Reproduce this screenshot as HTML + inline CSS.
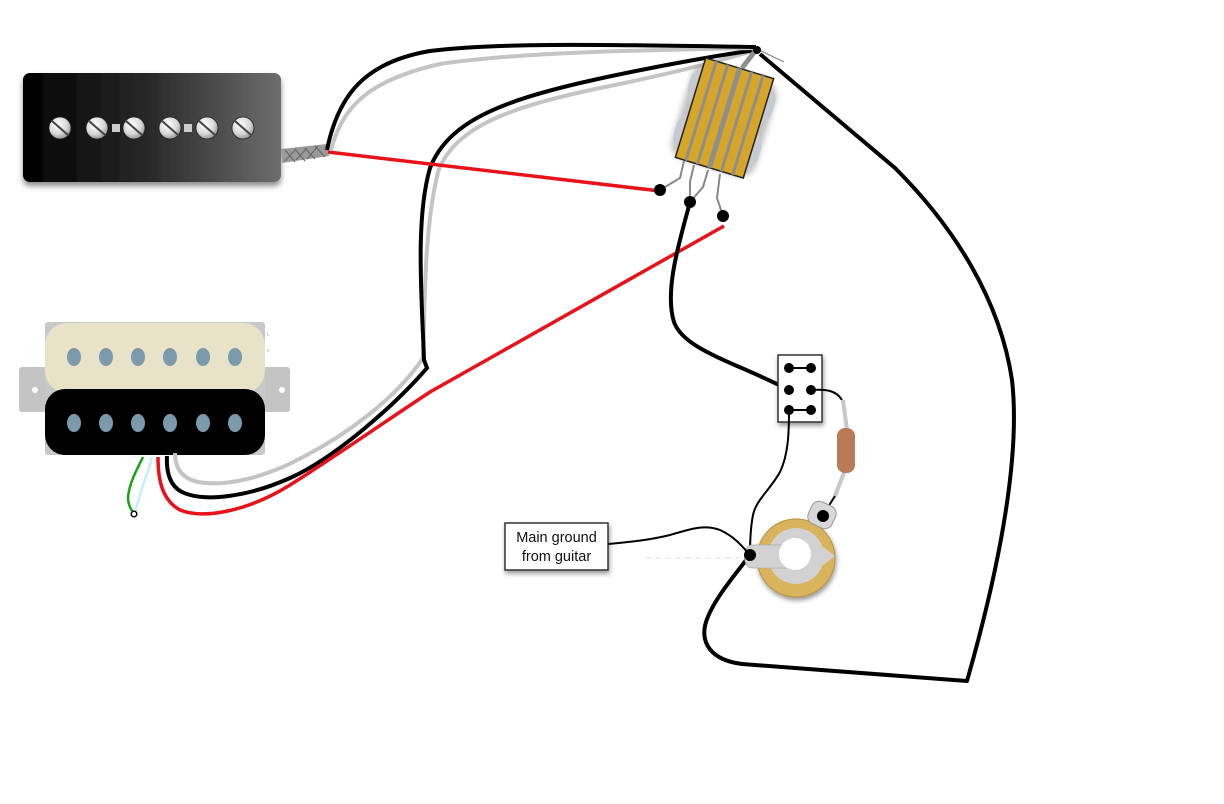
<!DOCTYPE html>
<html><head><meta charset="utf-8"><style>
html,body{margin:0;padding:0;background:#fff;}
svg{display:block;}
</style></head><body>
<svg width="1224" height="804" viewBox="0 0 1224 804" xmlns="http://www.w3.org/2000/svg">
<defs>
<linearGradient id="p90" x1="0" y1="0" x2="1" y2="0">
<stop offset="0" stop-color="#000"/><stop offset="0.5" stop-color="#2a2a2a"/><stop offset="1" stop-color="#6e6e6e"/>
</linearGradient>
<radialGradient id="scr" cx="0.4" cy="0.35" r="0.7">
<stop offset="0" stop-color="#fff"/><stop offset="0.6" stop-color="#d8d8d8"/><stop offset="1" stop-color="#8a8a8a"/>
</radialGradient>
<filter id="sh" x="-20%" y="-20%" width="140%" height="150%">
<feDropShadow dx="0" dy="4" stdDeviation="3" flood-color="#000" flood-opacity="0.45"/>
</filter>
<filter id="sh2" x="-20%" y="-20%" width="140%" height="150%">
<feDropShadow dx="1" dy="3" stdDeviation="2.5" flood-color="#000" flood-opacity="0.4"/>
</filter>
<filter id="blur"><feGaussianBlur stdDeviation="3"/></filter>
</defs>

<!-- P90 pickup -->
<rect x="23" y="73" width="258" height="109" rx="7" fill="url(#p90)" filter="url(#sh)"/>
<g stroke="#222" stroke-width="0.8">
<circle cx="60" cy="128" r="11" fill="url(#scr)"/>
<circle cx="97" cy="128" r="11" fill="url(#scr)"/>
<circle cx="134" cy="128" r="11" fill="url(#scr)"/>
<circle cx="170" cy="128" r="11" fill="url(#scr)"/>
<circle cx="207" cy="128" r="11" fill="url(#scr)"/>
<circle cx="243" cy="128" r="11" fill="url(#scr)"/>
</g>
<rect x="112" y="124" width="8" height="8" fill="#ccc"/>
<rect x="184" y="124" width="8" height="8" fill="#ccc"/>
<g stroke="#444" stroke-width="2" stroke-linecap="round">
<line x1="52" y1="121" x2="68" y2="135"/><line x1="89" y1="121" x2="105" y2="135"/>
<line x1="126" y1="121" x2="142" y2="135"/><line x1="162" y1="121" x2="178" y2="135"/>
<line x1="199" y1="121" x2="215" y2="135"/><line x1="235" y1="121" x2="251" y2="135"/>
</g>
<!-- braid -->
<polygon points="281,149 327,144 329,156 282,163" fill="#9a9a9a"/>
<g stroke="#666" stroke-width="1">
<line x1="285" y1="150" x2="295" y2="162"/><line x1="295" y1="149" x2="305" y2="161"/>
<line x1="305" y1="148" x2="315" y2="159"/><line x1="315" y1="146" x2="325" y2="157"/>
<line x1="285" y1="161" x2="296" y2="149"/><line x1="296" y1="160" x2="307" y2="148"/>
<line x1="307" y1="159" x2="318" y2="146"/>
</g>

<!-- humbucker -->
<rect x="19" y="367" width="271" height="45" rx="3" fill="#c4c4c4"/>
<circle cx="35" cy="390" r="3" fill="#fff"/>
<circle cx="282" cy="390" r="3" fill="#fff"/>
<rect x="45" y="322" width="220" height="133" rx="3" fill="#c8c8c8"/>
<rect x="45" y="323" width="220" height="70" rx="22" fill="#e8e2c8"/>
<rect x="45" y="389" width="220" height="66" rx="20" fill="#000"/>
<g fill="#7b9aab">
<ellipse cx="74" cy="357" rx="7" ry="9"/><ellipse cx="106" cy="357" rx="7" ry="9"/>
<ellipse cx="138" cy="357" rx="7" ry="9"/><ellipse cx="170" cy="357" rx="7" ry="9"/>
<ellipse cx="203" cy="357" rx="7" ry="9"/><ellipse cx="235" cy="357" rx="7" ry="9"/>
<ellipse cx="74" cy="423" rx="7" ry="9"/><ellipse cx="106" cy="423" rx="7" ry="9"/>
<ellipse cx="138" cy="423" rx="7" ry="9"/><ellipse cx="170" cy="423" rx="7" ry="9"/>
<ellipse cx="203" cy="423" rx="7" ry="9"/><ellipse cx="235" cy="423" rx="7" ry="9"/>
</g>
<text x="267" y="336" font-family="Liberation Sans, sans-serif" font-size="5" fill="#999">L</text>
<text x="267" y="352" font-family="Liberation Sans, sans-serif" font-size="5" fill="#999">c</text>

<!-- green / cyan -->
<path d="M143,457 C138,468 130,480 128,497 C128,505 131,510 134,513" fill="none" stroke="#1aa31a" stroke-width="2.5"/>
<path d="M152,457 C149,470 143,483 140,495 C138,503 136,508 135,511" fill="none" stroke="#c8f0f4" stroke-width="2.5"/>
<circle cx="134" cy="514" r="2.8" fill="#fff" stroke="#000" stroke-width="1.5"/>

<!-- humbucker wires -->
<path d="M175,453 C175,466 180,478 198,482 C225,487 265,478 305,456 C345,435 395,400 423,358 C425,300 424,230 438,172 C455,125 515,106 600,88 C680,72 730,58 756,50" fill="none" stroke="#c4c4c4" stroke-width="4"/>
<path d="M167,456 C166,472 170,486 182,492 C205,503 250,496 290,478 C335,458 395,405 427,368 L424,360 C422,300 415,220 430,168 C448,122 500,102 580,83 C650,67 720,55 756,50" fill="none" stroke="#000" stroke-width="4"/>
<path d="M158,457 C158,480 162,500 180,510 C205,520 250,510 290,485 C330,460 380,425 430,392 L724,226" fill="none" stroke="#e8131a" stroke-width="3.5"/>

<!-- P90 wires -->
<path d="M331,150 C343,105 370,80 440,64 C520,52 650,50 756,48" fill="none" stroke="#c4c4c4" stroke-width="4"/>
<path d="M327,150 C338,95 365,62 430,51 C500,42 620,45 756,47" fill="none" stroke="#000" stroke-width="4"/>
<line x1="328" y1="152" x2="660" y2="191" stroke="#e8131a" stroke-width="3.5"/>

<!-- right loop -->
<path d="M760,54 L895,168 C955,228 1000,300 1012,380 C1020,450 1003,555 967,681 L742,664 C710,660 700,642 706,622 C713,600 735,575 750,555" fill="none" stroke="#000" stroke-width="4" stroke-linejoin="round"/>

<!-- toggle switch -->
<g transform="translate(724.5,118) rotate(17)">
<g filter="url(#blur)" opacity="0.5"><rect x="-44" y="-48" width="88" height="100" rx="16" fill="#888"/></g>
<rect x="-44" y="-44" width="88" height="40" rx="16" fill="#c7cbd1"/>
<rect x="-44" y="4" width="88" height="40" rx="16" fill="#c7cbd1"/>
<rect x="-35.5" y="-52" width="71" height="104" fill="#d6a62a" stroke="#222" stroke-width="1.5"/>
<g fill="#8e8e8e">
<rect x="-26" y="-52" width="3" height="104"/>
<rect x="-14" y="-52" width="3" height="104"/>
<rect x="-2.5" y="-52" width="5" height="104"/>
<rect x="11" y="-52" width="3" height="104"/>
<rect x="23" y="-52" width="3" height="104"/>
</g>
</g>
<line x1="742" y1="68" x2="756" y2="50" stroke="#8e8e8e" stroke-width="5"/>
<line x1="757" y1="49" x2="784" y2="62" stroke="#888" stroke-width="1.2"/>
<circle cx="757" cy="50" r="4" fill="#000"/>
<!-- lugs -->
<g fill="none" stroke="#888" stroke-width="2">
<path d="M684,161 L680,178 L660,190"/>
<path d="M694,165 L690,182 L690,202"/>
<path d="M708,170 L703,187 L690,202"/>
<path d="M720,174 L717,198 L723,216"/>
</g>
<circle cx="660" cy="190" r="6" fill="#000"/>
<circle cx="690" cy="202" r="6" fill="#000"/>
<circle cx="723" cy="216" r="6" fill="#000"/>

<!-- black from switch to DPDT -->
<path d="M690,202 C680,240 664,290 674,322 C684,350 735,362 789,390" fill="none" stroke="#000" stroke-width="4"/>

<!-- DPDT -->
<rect x="778" y="355" width="44" height="67" fill="#fff" stroke="#333" stroke-width="1.5" filter="url(#sh2)"/>
<g fill="#000">
<circle cx="789" cy="368" r="5"/><circle cx="811" cy="368" r="5"/>
<circle cx="789" cy="390" r="5"/><circle cx="811" cy="390" r="5"/>
<circle cx="789" cy="410" r="5"/><circle cx="811" cy="410" r="5"/>
</g>
<line x1="789" y1="368" x2="811" y2="368" stroke="#000" stroke-width="2"/>
<line x1="789" y1="410" x2="811" y2="410" stroke="#000" stroke-width="2"/>

<!-- capacitor -->
<path d="M811,390 C825,389 836,390 842,400" fill="none" stroke="#000" stroke-width="2"/>
<line x1="843" y1="400" x2="847" y2="430" stroke="#c8c8c8" stroke-width="4"/>
<line x1="845" y1="470" x2="835" y2="496" stroke="#c8c8c8" stroke-width="4"/>
<line x1="835" y1="496" x2="823" y2="515" stroke="#000" stroke-width="2"/>
<rect x="837" y="428" width="18" height="45" rx="8" fill="#b97a55"/>

<!-- thin black DPDT to jack -->
<path d="M789,410 C789,435 788,455 780,472 C770,490 756,500 753,515 C750,530 750,545 750,555" fill="none" stroke="#000" stroke-width="2"/>

<!-- jack -->
<g filter="url(#sh2)">
<circle cx="796" cy="558" r="39" fill="#d9b45c" stroke="#b89040" stroke-width="1"/>
</g>
<circle cx="796" cy="556" r="28" fill="#d2d2d2"/>
<path d="M790,545 L752,545 C742,545 742,568 752,568 L790,568 Z" fill="#d2d2d2" stroke="#aaa" stroke-width="0.8"/>
<polygon points="818,543 835,556 818,569" fill="#d2d2d2"/>
<circle cx="795" cy="554" r="16" fill="#fff"/>
<g transform="translate(822,515) rotate(25)">
<rect x="-13" y="-12" width="26" height="24" rx="8" fill="#d8d8d8" stroke="#999" stroke-width="1"/>
</g>
<circle cx="823" cy="516" r="6" fill="#000"/>

<!-- main ground label -->
<rect x="505" y="523" width="103" height="47" fill="#fff" stroke="#333" stroke-width="1.5" filter="url(#sh2)"/>
<text x="556.5" y="542" text-anchor="middle" font-family="Liberation Sans, Arial, sans-serif" font-size="14.5" fill="#111">Main ground</text>
<text x="556.5" y="561" text-anchor="middle" font-family="Liberation Sans, Arial, sans-serif" font-size="14.5" fill="#111">from guitar</text>
<path d="M608,544 C630,542 650,540 670,535 C690,529 705,524 720,530 C735,537 742,546 750,555" fill="none" stroke="#000" stroke-width="2"/>
<line x1="645" y1="558" x2="740" y2="558" stroke="#e0e0e0" stroke-width="1" stroke-dasharray="6,4"/>
<circle cx="750" cy="555" r="6" fill="#000"/>
</svg>
</body></html>
